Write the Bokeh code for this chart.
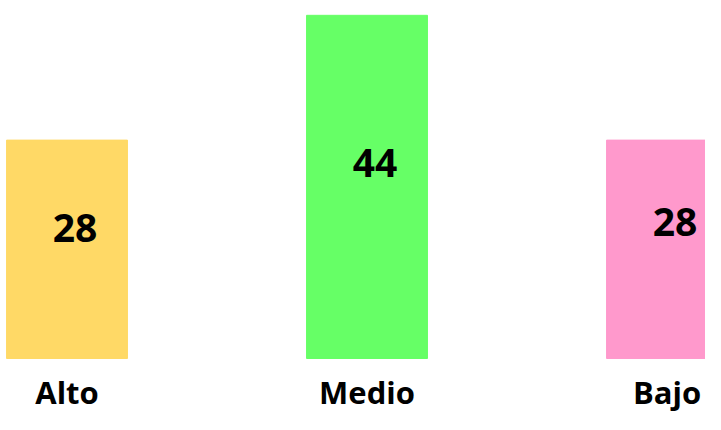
from bokeh.plotting import figure
from bokeh.models import Range1d, ColumnDataSource
from bokeh.core.properties import value
from bokeh.embed import file_html
from bokeh.resources import INLINE

categories = ["Alto", "Medio", "Bajo"]
values = [28, 44, 28]
colors = ["#FFD966", "#66FF66", "#FF99CC"]

# value-label placement: pixels below each bar's top (as in the reference)
label_dy = [88, 148, 82]

xs = list(range(len(categories)))
src = ColumnDataSource(dict(x=xs, top=values, color=colors, cat=categories,
                            zero=[0] * len(xs),
                            label=[str(v) for v in values], dy=label_dy))

p = figure(width=705, height=414, output_backend="svg", toolbar_location=None,
           x_range=Range1d(-0.2217, 2.1283), y_range=Range1d(-7.18, 45.9),
           min_border=0)
p.outline_line_color = None
p.xgrid.visible = False
p.ygrid.visible = False
p.axis.visible = False
p.background_fill_color = "white"
p.border_fill_color = "white"

p.vbar(x="x", top="top", bottom=0, width=0.403, color="color", source=src)

# values inside the bars
p.text(x="x", y="top", text="label", source=src, x_offset=8, y_offset="dy",
       text_align="center", text_baseline="middle",
       text_font=value("Open Sans"), text_font_style="bold",
       text_font_size="39px", text_color="black")

# category labels under the bars
p.text(x="x", y="zero", text="cat", source=src, y_offset=34,
       text_align="center", text_baseline="middle",
       text_font=value("Open Sans"), text_font_style="bold",
       text_font_size="31px", text_color="black")

open("out.html", "w").write(file_html(p, INLINE))
